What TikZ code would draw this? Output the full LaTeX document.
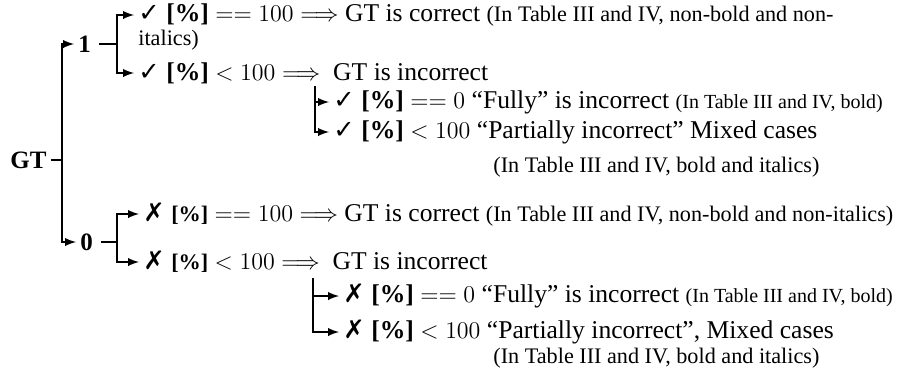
\documentclass[tikz,border=0pt]{standalone}
\usepackage{fontspec}
\setmainfont{Liberation Serif}
\newfontfamily\symfont{DejaVu Sans}
\usetikzlibrary{arrows,positioning}
\newcommand{\sm}{\fontsize{11.1}{13}\selectfont}
\newcommand{\smb}{\fontsize{10}{12}\selectfont}
\newcommand{\chk}{{\symfont ✓}}
\newcommand{\crs}{{\symfont ✗}}
\newcommand{\pct}{\textbf{[\%]}}
\tikzstyle{txt}=[anchor=west,inner sep=0pt,font=\fontsize{12.8}{14}\selectfont]
\tikzstyle{note}=[anchor=west,inner sep=0pt,font=\sm]
\tikzstyle{root}=[anchor=west,inner sep=0pt,font=\fontsize{12.5}{14}\selectfont\bfseries]
\tikzstyle{ln}=[line width=0.9pt]
\tikzstyle{arr}=[-latex,line width=0.9pt,shorten >=2pt]

\begin{document}
\begin{tikzpicture}[x=0.5pt,y=-0.5pt]
\useasboundingbox (0,0) rectangle (920,377);
% root and first level
\node[root] (gt) at (10,160) {GT};
\node[root] (one) at (78,44) {1};
\node[root] (zero) at (80,242) {0};
\coordinate (gtfork) at (62,160);
\draw[ln] ([xshift=2pt]gt.east) -- (gtfork);
\draw[arr] (gtfork) |- (one);
\draw[arr] (gtfork) |- (zero);
% branch 1
\node[txt] (a1) at (138,15) {\chk\ \pct\ $==100\Longrightarrow$ GT is correct {\sm(In Table III and IV, non-bold and non-}};
\node[note] (a1b) at (138,40) {italics)};
\node[txt] (a2) at (138,73) {\chk\ \pct\ $<100\Longrightarrow$\ \ GT is incorrect};
\coordinate (onefork) at (117,44);
\draw[ln] ([xshift=4pt]one.east) -- (onefork);
\draw[arr] (onefork) |- (a1);
\draw[arr] (onefork) |- (a2);
\node[txt] (a3) at (333,102) {\chk\ \pct\ $==0$ “Fully” is incorrect {\smb(In Table III and IV, bold)}};
\node[txt] (a4) at (333,132) {\chk\ \pct\ $<100$ “Partially incorrect” Mixed cases};
\node[note] (a5) at (493,167) {(In Table III and IV, bold and italics)};
\coordinate (s1) at (315,86);
\draw[arr] (s1) |- (a3);
\draw[arr] (s1) |- (a4);
% branch 0
\node[txt] (b1) at (143,214) {\crs\ {\sm\bfseries[\%]} $==100\Longrightarrow$ GT is correct {\sm(In Table III and IV, non-bold and non-italics)}};
\node[txt] (b2) at (143,262) {\crs\ {\sm\bfseries[\%]} $<100\Longrightarrow$\ \ GT is incorrect};
\coordinate (zerofork) at (117,242);
\draw[ln] ([xshift=4pt]zero.east) -- (zerofork);
\draw[arr] (zerofork) |- (b1);
\draw[arr] (zerofork) |- (b2);
\node[txt] (b3) at (343,296) {\crs\ \pct\ $==0$ “Fully” is incorrect {\smb(In Table III and IV, bold)}};
\node[txt] (b4) at (343,332) {\crs\ \pct\ $<100$ “Partially incorrect”, Mixed cases};
\node[note] (b5) at (493,358) {(In Table III and IV, bold and italics)};
\coordinate (s2) at (313,278);
\draw[arr] (s2) |- (b3);
\draw[arr] (s2) |- (b4);
\end{tikzpicture}
\end{document}
